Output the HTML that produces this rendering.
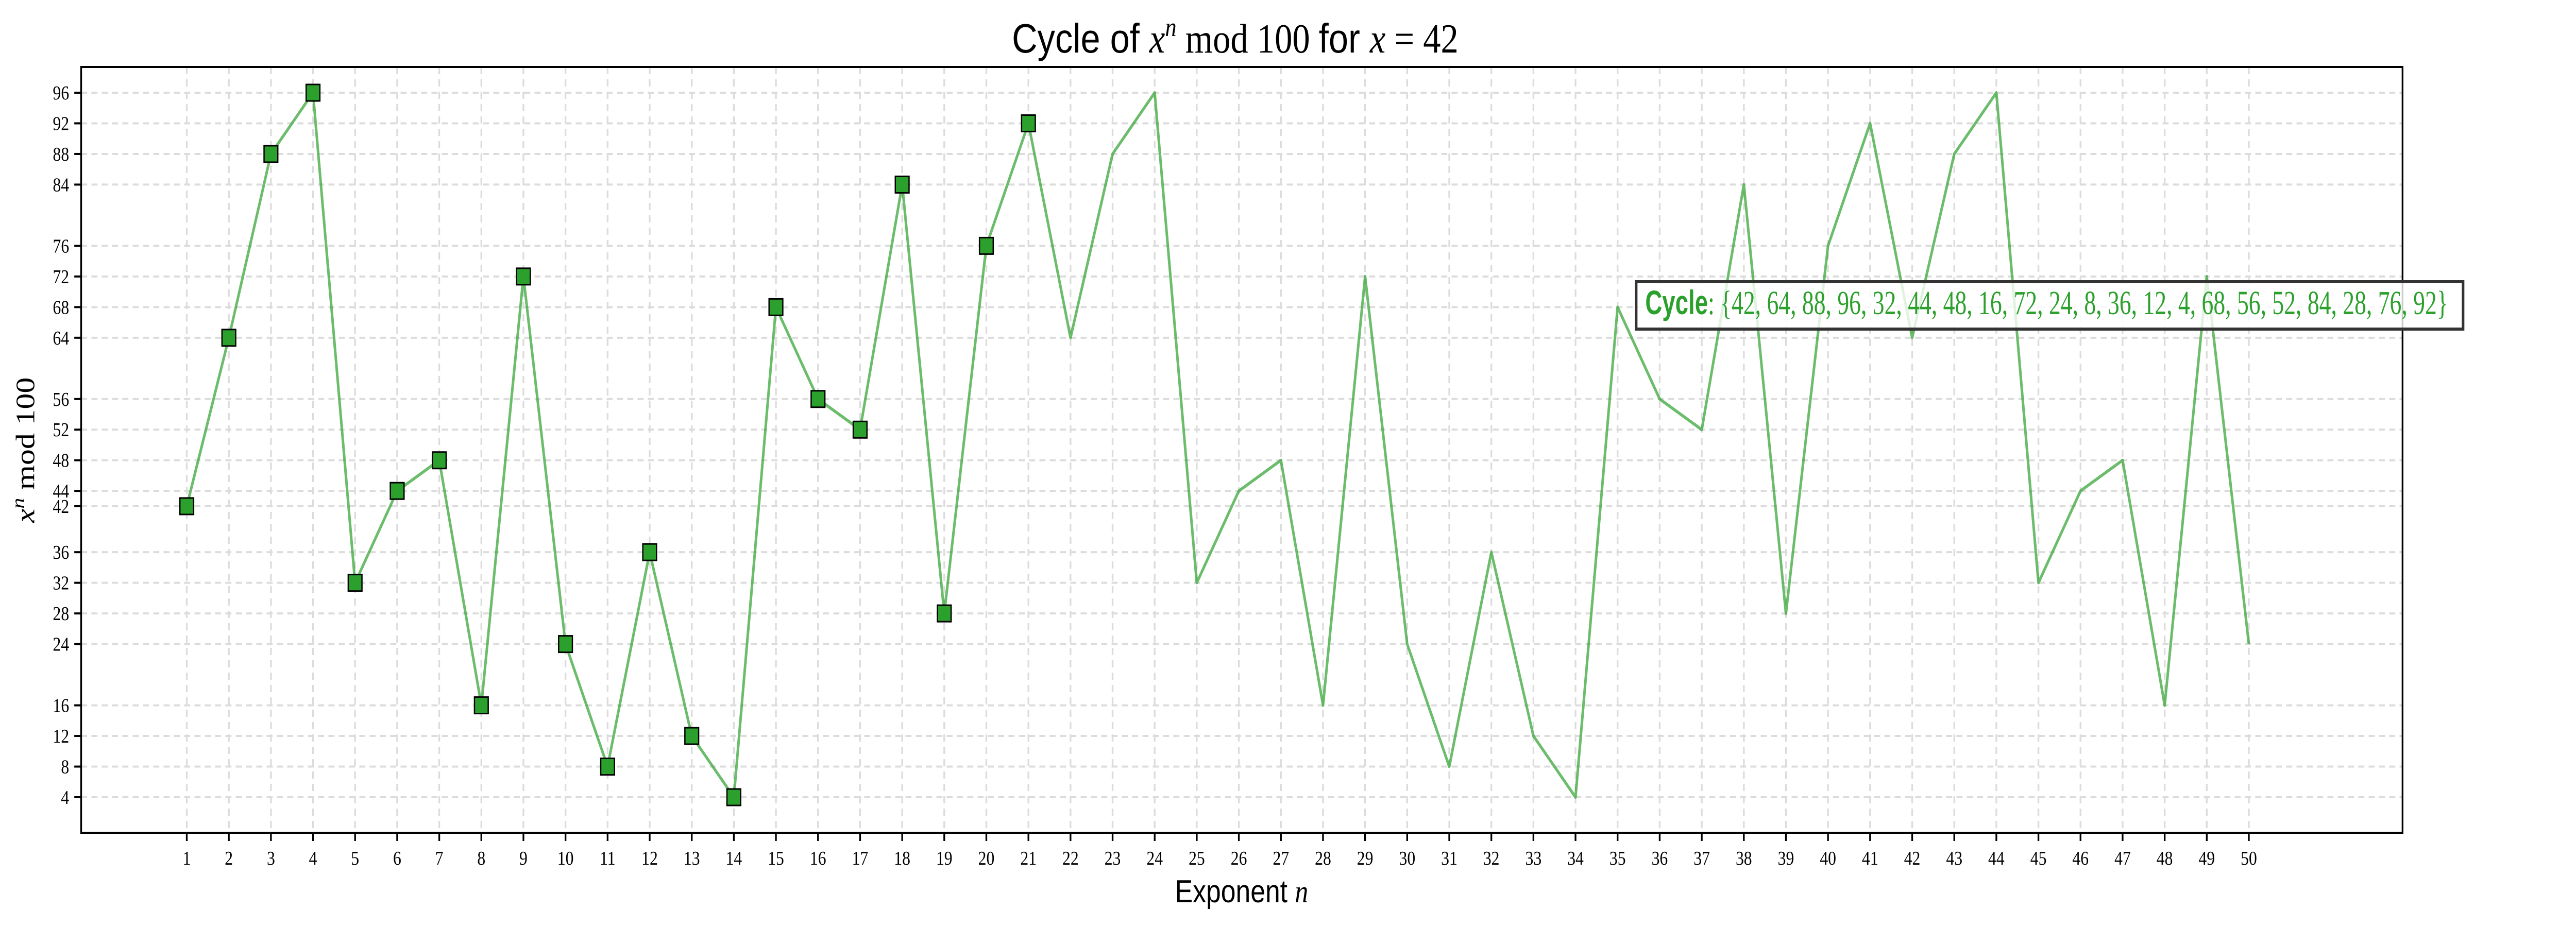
<!DOCTYPE html>
<html><head><meta charset="utf-8">
<style>
html,body{margin:0;padding:0;background:#fff;overflow:hidden;width:100%;height:100%;}
svg{display:block;width:100vw;height:100vh;}
</style></head>
<body>
<svg id="chart" viewBox="0 0 6000 1800" preserveAspectRatio="none" xmlns="http://www.w3.org/2000/svg">
  <rect x="0" y="0" width="6000" height="1800" fill="#fff"/>
  <g id="grid"></g>
  <g id="series"></g>
  <rect x="189" y="130" width="5407" height="1487" fill="none" stroke="#000" stroke-width="4"/>
  <g id="ticks"></g>
  <text x="2877" y="102" text-anchor="middle" font-size="80" font-family="'Liberation Sans', sans-serif" textLength="1040" lengthAdjust="spacingAndGlyphs">Cycle of <tspan font-family="'Liberation Serif', serif" font-style="italic">x</tspan><tspan font-family="'Liberation Serif', serif" font-style="italic" font-size="52" dy="-32">n</tspan><tspan font-family="'Liberation Serif', serif" dy="32"> mod 100 </tspan>for <tspan font-family="'Liberation Serif', serif" font-style="italic">x</tspan><tspan font-family="'Liberation Serif', serif"> = 42</tspan></text>
  <text x="2892" y="1752" text-anchor="middle" font-size="62" font-family="'Liberation Sans', sans-serif">Exponent <tspan font-family="'Liberation Serif', serif" font-style="italic">n</tspan></text>
  <text transform="translate(80,874) rotate(-90)" text-anchor="middle" font-size="62" font-family="'Liberation Serif', serif"><tspan font-style="italic">x</tspan><tspan font-style="italic" font-size="42" dy="-24">n</tspan><tspan dy="24"> mod 100</tspan></text>
  <g>
    <rect x="3811" y="547" width="1926" height="92" fill="#fff" fill-opacity="0.8" stroke="#333" stroke-width="6"/>
    <text x="3832" y="610" font-size="66" fill="#2ca02c" font-family="'Liberation Serif', serif" textLength="1870" lengthAdjust="spacingAndGlyphs"><tspan font-family="'Liberation Sans', sans-serif" font-weight="bold">Cycle</tspan>: {42, 64, 88, 96, 32, 44, 48, 16, 72, 24, 8, 36, 12, 4, 68, 56, 52, 84, 28, 76, 92}</text>
  </g>
</svg>
<script>
const exponents = [1,2,3,4,5,6,7,8,9,10,11,12,13,14,15,16,17,18,19,20,21,22,23,24,25,26,27,28,29,30,31,32,33,34,35,36,37,38,39,40,41,42,43,44,45,46,47,48,49,50];
const residues = [42,64,88,96,32,44,48,16,72,24,8,36,12,4,68,56,52,84,28,76,92,64,88,96,32,44,48,16,72,24,8,36,12,4,68,56,52,84,28,76,92,64,88,96,32,44,48,16,72,24];
const markedCount = 21;
const yTickValues = [4,8,12,16,24,28,32,36,42,44,48,52,56,64,68,72,76,84,88,92,96];

const NS = 'http://www.w3.org/2000/svg';
const plotL = 189, plotR = 5596, plotT = 130, plotB = 1617;
function xScale(n){ return 435 + (n - 1) * (5238 - 435) / 49; }
function yScale(v){ return 180 + (96 - v) * (1548 - 180) / 92; }
function mk(tag, attrs, parent){
  const e = document.createElementNS(NS, tag);
  for (const k in attrs) e.setAttribute(k, attrs[k]);
  parent.appendChild(e);
  return e;
}
const grid = document.getElementById('grid');
const ticks = document.getElementById('ticks');
const series = document.getElementById('series');

exponents.forEach(n => {
  const x = xScale(n);
  const g = mk('line', {x1:x, x2:x, y1:plotT, y2:plotB, stroke:'#dcdcdc', 'stroke-width':4, 'stroke-dasharray':'14,10'}, grid);
  
  
  const t = mk('line', {x1:x, x2:x, y1:plotB, y2:plotB + 16, stroke:'#000', 'stroke-width':4}, ticks);
  
  
  const lb = mk('text', {x:x, y:plotB + 62, 'text-anchor':'middle', 'font-size':38, 'font-family':"'Liberation Serif', serif"}, ticks);
  lb.textContent = n;
  
  
});
yTickValues.forEach(v => {
  const y = yScale(v);
  const g = mk('line', {x1:plotL, x2:plotR, y1:y, y2:y, stroke:'#dcdcdc', 'stroke-width':4, 'stroke-dasharray':'14,10'}, grid);
  
  
  const t = mk('line', {x1:plotL - 16, x2:plotL, y1:y, y2:y, stroke:'#000', 'stroke-width':4}, ticks);
  
  
  const lb = mk('text', {x:plotL - 28, y:y + 13, 'text-anchor':'end', 'font-size':38, 'font-family':"'Liberation Serif', serif"}, ticks);
  lb.textContent = v;
  
  
});
const pts = exponents.map((n, i) => xScale(n) + ',' + yScale(residues[i])).join(' ');
const line = mk('polyline', {points:pts, fill:'none', stroke:'#2ca02c', 'stroke-opacity':0.7, 'stroke-width':6, 'stroke-linejoin':'round'}, series);


for (let i = 0; i < markedCount; i++){
  const cx = xScale(exponents[i]), cy = yScale(residues[i]);
  const m = mk('rect', {x:cx - 16, y:cy - 16, width:32, height:32, fill:'#2ca02c', stroke:'#000', 'stroke-width':3}, series);
  
  
}
</script>
</body></html>
